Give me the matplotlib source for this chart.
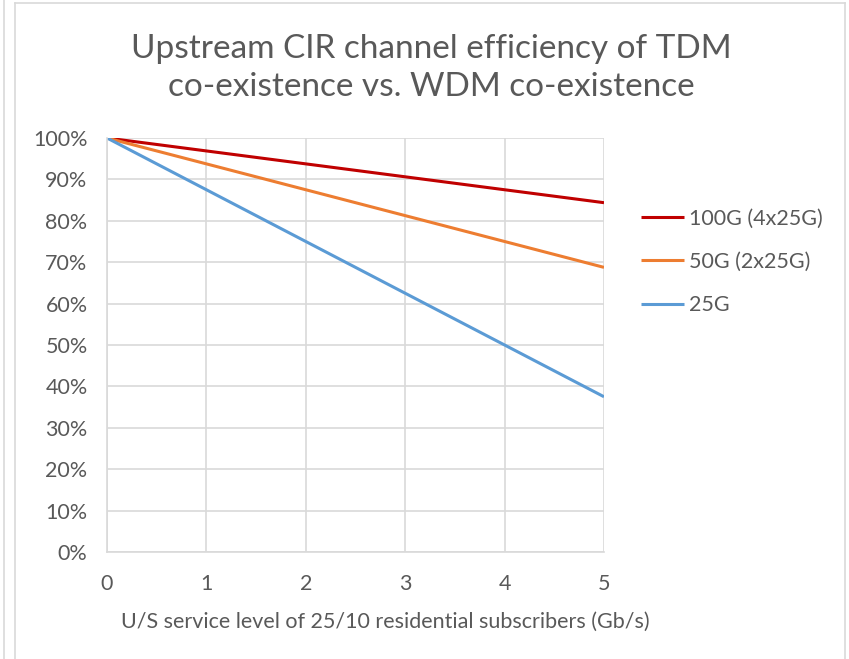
import matplotlib
matplotlib.use("Agg")
import matplotlib.pyplot as plt
from matplotlib.lines import Line2D
from matplotlib.ticker import PercentFormatter

x_vals = [0, 1, 2, 3, 4, 5]
s100 = [100, 96.875, 93.75, 90.625, 87.5, 84.375]
s50 = [100, 93.75, 87.5, 81.25, 75, 68.75]
s25 = [100, 87.5, 75, 62.5, 50, 37.5]
labels = ["100G (4x25G)", "50G (2x25G)", "25G"]
colors = ["#C00000", "#ED7D31", "#5B9BD5"]

W, H = 849, 659
fig = plt.figure(figsize=(W / 100, H / 100), dpi=100)
plt.rcParams['font.family'] = ['Lato', 'DejaVu Sans']
tc = "#595959"

def fx(px):
    return px / W

def fy(py):
    return 1 - py / H

ax = fig.add_axes([fx(107), fy(552), fx(604) - fx(107), fy(138) - fy(552)])
for ys, lab, c in zip([s100, s50, s25], labels, colors):
    ax.plot(x_vals, ys, color=c, lw=2.2, label=lab, solid_capstyle='butt')

ax.set_xlim(0, 5)
ax.set_ylim(0, 100)
ax.set_xticks(x_vals)
ax.set_yticks(range(0, 101, 10))
ax.yaxis.set_major_formatter(PercentFormatter(decimals=0))
ax.grid(True, color="#D9D9D9", lw=1.2)
ax.set_axisbelow(True)
for s in ["top", "right"]:
    ax.spines[s].set_visible(False)
for s in ["left", "bottom"]:
    ax.spines[s].set_color("#D9D9D9")
    ax.spines[s].set_linewidth(1.2)
ax.tick_params(length=0, labelsize=15.5, colors=tc, pad=14)
ax.tick_params(axis='x', pad=16)
ax.set_xlabel("U/S service level of 25/10 residential subscribers (Gb/s)",
              fontsize=15.5, color=tc, labelpad=14)
ax.xaxis.set_label_coords((385 - 107) / (604 - 107), -0.145)

fig.text(fx(431), fy(68), "Upstream CIR channel efficiency of TDM\nco-existence vs. WDM co-existence",
         ha="center", va="center", fontsize=24, color=tc, linespacing=1.3)

leg = ax.legend(loc="center left", bbox_to_anchor=(fx(641), fy(262)), bbox_transform=fig.transFigure,
                frameon=False, fontsize=15.5, labelcolor=tc, handlelength=2.0,
                handletextpad=0.25, labelspacing=1.07, borderaxespad=0, borderpad=0)

# outer chart border
fig.add_artist(Line2D([fx(15), fx(15)], [0, fy(3)], color="#D9D9D9", lw=1.2))
fig.add_artist(Line2D([fx(845), fx(845)], [0, fy(3)], color="#D9D9D9", lw=1.2))
fig.add_artist(Line2D([fx(15), fx(845)], [fy(3), fy(3)], color="#D9D9D9", lw=1.2))
fig.add_artist(Line2D([fx(3.5), fx(3.5)], [0, 1], color="#D9D9D9", lw=1.2))

fig.savefig("out.png", dpi=100)
